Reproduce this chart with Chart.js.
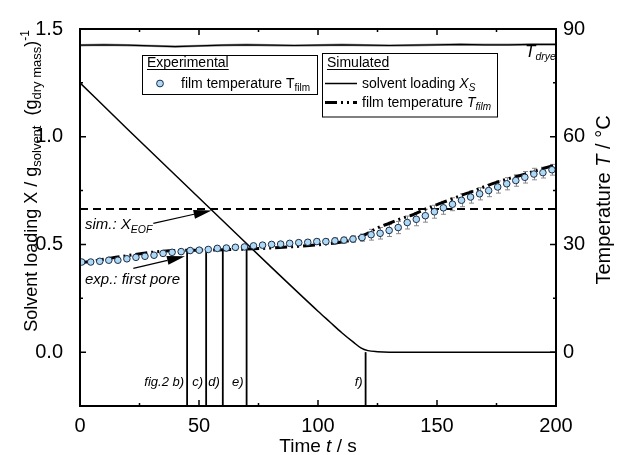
<!DOCTYPE html>
<html>
<head>
<meta charset="utf-8">
<script src="https://cdn.jsdelivr.net/npm/chart.js@4.4.0/dist/chart.umd.min.js"></script>
<style>
  body { margin: 0; background: #fff; }
  canvas { display: block; }
</style>
</head>
<body>
<canvas id="chart" width="619" height="455"></canvas>
<script>
// --- ticks ---
const xTicks = [0, 50, 100, 150, 200];
const xMinor = [25, 75, 125, 175];
const yTicks = [0, 0.5, 1.0, 1.5];
const yMinor = [-0.25, 0.25, 0.75, 1.25];
const tTicks = [0, 30, 60, 90];
const tMinor = [15, 45, 75];

// --- simulado: carga de solvente X_S ---
const timeXS = [0, 20, 40, 60, 80, 100, 105, 110, 115, 118, 121, 125, 130, 200];
const loadXS = [1.25, 1.035, 0.822, 0.61, 0.398, 0.19, 0.14, 0.09, 0.045, 0.02, 0.007, 0.002, 0, 0];
const xEOF = 0.665;

// --- simulado: temperatura de film ---
const timeSimT = [0, 5, 10, 15, 20, 30, 40, 50, 60, 70, 80, 90, 100, 110, 115, 120, 125, 130, 135, 140, 145, 150, 155, 160, 165, 170, 175, 180, 185, 190, 195, 200];
const simFilmT = [24.9, 25.3, 25.9, 26.4, 26.9, 27.8, 28.3, 28.4, 28.5, 28.7, 29.0, 29.4, 29.9, 30.7, 31.4, 32.8, 34.6, 35.9, 37.2, 38.3, 39.8, 41.1, 42.3, 43.6, 44.8, 46.1, 47.3, 48.3, 49.2, 50.2, 51.2, 52.2];

// --- secador ---
const timeDryer = [0, 10, 20, 30, 40, 50, 60, 70, 80, 90, 100, 110, 120, 130, 140, 150, 160, 170, 180, 190, 200];
const dryerT = [85.5, 85.6, 85.5, 85.3, 85.1, 85.3, 85.5, 85.6, 85.5, 85.4, 85.5, 85.6, 85.5, 85.4, 85.5, 85.6, 85.7, 85.6, 85.6, 85.7, 85.7];

// --- experimental: temperatura de film ---
const expTimes = [0.7, 4.5, 8.3, 12.1, 15.9, 19.7, 23.5, 27.3, 31.1, 34.9, 38.7, 42.5, 46.3, 50.1, 53.9, 57.7, 61.5, 65.3, 69.1, 72.9, 76.7, 80.5, 84.3, 88.1, 91.9, 95.7, 99.5, 103.3, 107.1, 110.9, 114.7, 118.5, 122.3, 126.1, 129.9, 133.7, 137.5, 141.3, 145.1, 148.9, 152.7, 156.5, 160.3, 164.1, 167.9, 171.7, 175.5, 179.3, 183.1, 186.9, 190.7, 194.5, 198.3];
const expFilmT = [25.1, 25.1, 25.3, 25.6, 25.6, 26.0, 26.4, 26.7, 27.0, 27.5, 27.8, 28.0, 28.3, 28.4, 28.6, 28.9, 29.0, 29.2, 29.3, 29.6, 29.8, 30.0, 30.1, 30.3, 30.5, 30.6, 30.8, 30.8, 31.0, 31.2, 31.5, 31.9, 32.7, 33.1, 33.9, 34.7, 36.1, 37.0, 38.0, 39.1, 40.2, 41.2, 42.3, 43.2, 44.1, 45.0, 46.0, 46.9, 47.8, 48.7, 49.6, 50.0, 50.8];
const expErr = [0.3, 0.3, 0.3, 0.3, 0.3, 0.3, 0.3, 0.3, 0.3, 0.3, 0.3, 0.3, 0.3, 0.3, 0.3, 0.3, 0.3, 0.3, 0.3, 0.3, 0.3, 0.5, 0.5, 0.5, 0.6, 0.6, 0.7, 0.7, 0.8, 0.8, 0.9, 1.0, 1.5, 1.6, 1.7, 1.7, 1.8, 1.8, 1.8, 1.8, 1.8, 1.8, 1.8, 1.7, 1.7, 1.7, 1.7, 1.7, 1.6, 1.6, 1.6, 1.5, 1.5];

// --- lineas verticales fig.2 ---
const fig2Times = [45, 53, 60, 70, 120];
const fig2Tops = [0.468, 0.472, 0.477, 0.486, 0.0];
const fig2Labels = ['fig.2 b)', 'c)', 'd)', 'e)', 'f)'];

const FONT = "'Liberation Sans', Arial, Helvetica, sans-serif";
const SIM_DASH = [12, 4, 2, 4, 2, 4];

const pts = (xs, ys) => xs.map((x, i) => ({ x, y: ys[i] }));

function setFont(ctx, size, italic) {
    ctx.font = (italic ? 'italic ' : '') + size + 'px ' + FONT;
}

// parts: [texto, tamaño, italica, desplazamiento]
function richText(ctx, x, y, parts, align) {
    let w = 0;
    parts.forEach(p => { setFont(ctx, p[1], p[2]); w += ctx.measureText(p[0]).width; });
    let cx = align === 'center' ? x - w / 2 : align === 'right' ? x - w : x;
    ctx.textAlign = 'left';
    ctx.textBaseline = 'alphabetic';
    parts.forEach(p => {
        setFont(ctx, p[1], p[2]);
        ctx.fillText(p[0], cx, y + (p[3] || 0));
        cx += ctx.measureText(p[0]).width;
    });
    return w;
}

function arrow(ctx, x0, y0, x1, y1, len, half) {
    const a = Math.atan2(y1 - y0, x1 - x0);
    const bx = x1 - len * Math.cos(a), by = y1 - len * Math.sin(a);
    ctx.beginPath();
    ctx.moveTo(x0, y0);
    ctx.lineTo(bx, by);
    ctx.stroke();
    ctx.beginPath();
    ctx.moveTo(x1, y1);
    ctx.lineTo(bx + half * Math.sin(a), by - half * Math.cos(a));
    ctx.lineTo(bx - half * Math.sin(a), by + half * Math.cos(a));
    ctx.closePath();
    ctx.fill();
}

const decor = {
    id: 'decor',
    beforeDatasetsDraw(chart) {
        const { ctx, scales } = chart;
        const xs = scales.x, ts = scales.y2;
        ctx.save();
        ctx.strokeStyle = '#8a8a8a';
        ctx.lineWidth = 1;
        expTimes.forEach((t, i) => {
            const px = Math.round(xs.getPixelForValue(t)) + 0.5;
            const a = ts.getPixelForValue(expFilmT[i] - expErr[i]);
            const b = ts.getPixelForValue(expFilmT[i] + expErr[i]);
            ctx.beginPath();
            ctx.moveTo(px, a); ctx.lineTo(px, b);
            ctx.moveTo(px - 2.5, a); ctx.lineTo(px + 2.5, a);
            ctx.moveTo(px - 2.5, b); ctx.lineTo(px + 2.5, b);
            ctx.stroke();
        });
        ctx.restore();
    },
    afterDraw(chart) {
        const { ctx, chartArea: ca, scales } = chart;
        const xs = scales.x, ys = scales.y, ts = scales.y2;
        ctx.save();
        ctx.fillStyle = '#000';
        ctx.strokeStyle = '#000';

        // marco
        ctx.lineWidth = 2;
        ctx.strokeRect(ca.left, ca.top, ca.right - ca.left, ca.bottom - ca.top);

        // ticks hacia adentro
        ctx.lineWidth = 1.5;
        ctx.beginPath();
        const tickX = (v, len) => {
            const p = xs.getPixelForValue(v);
            ctx.moveTo(p, ca.bottom); ctx.lineTo(p, ca.bottom - len);
            ctx.moveTo(p, ca.top); ctx.lineTo(p, ca.top + len);
        };
        xTicks.forEach(v => tickX(v, 6));
        xMinor.forEach(v => tickX(v, 3));
        const tickL = (v, len) => { const p = ys.getPixelForValue(v); ctx.moveTo(ca.left, p); ctx.lineTo(ca.left + len, p); };
        yTicks.forEach(v => tickL(v, 6));
        yMinor.forEach(v => tickL(v, 3));
        const tickR = (v, len) => { const p = ts.getPixelForValue(v); ctx.moveTo(ca.right, p); ctx.lineTo(ca.right - len, p); };
        tTicks.forEach(v => tickR(v, 6));
        tMinor.forEach(v => tickR(v, 3));
        ctx.stroke();

        // etiquetas fig.2
        fig2Times.forEach((t, i) => {
            richText(ctx, xs.getPixelForValue(t) - 3, ys.getPixelForValue(-0.156), [[fig2Labels[i], 13, true]], 'right');
        });

        // anotaciones
        richText(ctx, xs.getPixelForValue(2.1), ys.getPixelForValue(0.573),
            [['sim.: X', 15, true], ['EOF', 10.5, true, 4]], 'left');
        richText(ctx, xs.getPixelForValue(2.1), ys.getPixelForValue(0.317),
            [['exp.: first pore', 15, true]], 'left');
        ctx.lineWidth = 1.2;
        arrow(ctx, xs.getPixelForValue(30.8), ys.getPixelForValue(0.598),
            xs.getPixelForValue(55.3), ys.getPixelForValue(0.658), 18, 4.5);
        arrow(ctx, xs.getPixelForValue(22.4), ys.getPixelForValue(0.389),
            xs.getPixelForValue(44.1), ys.getPixelForValue(0.445), 18, 4.5);

        // T_dryer
        ctx.save();
        ctx.beginPath();
        ctx.rect(ca.left, ca.top, ca.right - ca.left - 1, ca.bottom - ca.top);
        ctx.clip();
        richText(ctx, 525, 57, [['T', 17, true], ['dryer', 10.5, true, 3]], 'left');
        ctx.restore();

        // leyenda
        ctx.lineWidth = 1;
        ctx.fillStyle = '#fff';
        ctx.fillRect(142.5, 55.5, 175, 39);
        ctx.strokeRect(142.5, 55.5, 175, 39);
        ctx.fillRect(322.5, 53.5, 175, 63.5);
        ctx.strokeRect(322.5, 53.5, 175, 63.5);
        ctx.fillStyle = '#000';

        let w = richText(ctx, 147, 67, [['Experimental', 14]], 'left');
        ctx.beginPath(); ctx.moveTo(147, 69.5); ctx.lineTo(147 + w, 69.5); ctx.stroke();
        ctx.beginPath();
        ctx.arc(160, 83.5, 3.4, 0, Math.PI * 2);
        ctx.fillStyle = '#aed9f2'; ctx.fill();
        ctx.strokeStyle = '#1c2b4a'; ctx.stroke();
        ctx.fillStyle = '#000'; ctx.strokeStyle = '#000';
        richText(ctx, 181, 88, [['film temperature T', 14], ['film', 10, false, 3]], 'left');

        w = richText(ctx, 327, 67, [['Simulated', 14]], 'left');
        ctx.beginPath(); ctx.moveTo(327, 69.5); ctx.lineTo(327 + w, 69.5); ctx.stroke();
        ctx.lineWidth = 1.5;
        ctx.beginPath(); ctx.moveTo(325, 83.5); ctx.lineTo(357, 83.5); ctx.stroke();
        richText(ctx, 362, 88, [['solvent loading ', 14], ['X', 14, true], ['S', 10, true, 3]], 'left');
        ctx.lineWidth = 3;
        ctx.setLineDash(SIM_DASH);
        ctx.beginPath(); ctx.moveTo(325, 102.5); ctx.lineTo(357, 102.5); ctx.stroke();
        ctx.setLineDash([]);
        richText(ctx, 362, 107, [['film temperature ', 14], ['T', 14, true], ['film', 10, true, 3]], 'left');

        // titulos de ejes
        richText(ctx, (ca.left + ca.right) / 2, 452, [['Time ', 19], ['t', 19, true], [' / s', 19]], 'center');

        ctx.save();
        ctx.translate(37, 181);
        ctx.rotate(-Math.PI / 2);
        richText(ctx, 0, 0, [
            ['Solvent loading X / g', 18], ['solvent', 13, false, 4],
            ['  (g', 18], ['dry mass', 13, false, 4], [')', 18], ['-1', 12, false, -8]
        ], 'center');
        ctx.restore();

        ctx.save();
        ctx.translate(610, 200);
        ctx.rotate(-Math.PI / 2);
        richText(ctx, 0, 0, [['Temperature ', 20], ['T', 20, true], [' / \u00b0C', 20]], 'center');
        ctx.restore();

        ctx.restore();
    }
};

const datasets = [
    { label: 'dryer-noise', data: pts(timeDryer, dryerT), yAxisID: 'y2',
      borderColor: '#9a9a9a', borderWidth: 2.5, order: 9 },
    { label: 'T_dryer', data: pts(timeDryer, dryerT), yAxisID: 'y2',
      borderColor: '#000', borderWidth: 1.2, order: 8 },
    { label: 'X_EOF', data: pts([0, 200], [xEOF, xEOF]), yAxisID: 'y',
      borderColor: '#000', borderWidth: 2, borderDash: [8, 5], order: 7 },
    { label: 'film temperature T_film (sim)', data: pts(timeSimT, simFilmT), yAxisID: 'y2',
      borderColor: '#000', borderWidth: 3, borderDash: SIM_DASH, cubicInterpolationMode: 'monotone', order: 6 },
    { label: 'solvent loading X_S', data: pts(timeXS, loadXS), yAxisID: 'y',
      borderColor: '#000', borderWidth: 1.5, cubicInterpolationMode: 'monotone', order: 5 },
    ...fig2Times.map((t, i) => ({
        label: fig2Labels[i], data: pts([t, t], [-0.25, fig2Tops[i]]), yAxisID: 'y',
        borderColor: '#000', borderWidth: 1.8, order: 4
    })),
    { label: 'film temperature T_film (exp)', data: pts(expTimes, expFilmT), yAxisID: 'y2',
      showLine: false, pointRadius: 3.3, pointBorderWidth: 1,
      pointBackgroundColor: '#aed9f2', pointBorderColor: '#1c2b4a', order: 1 }
];

const tickFont = { family: FONT, size: 20 };

new Chart(document.getElementById('chart'), {
    type: 'line',
    data: { datasets },
    options: {
        responsive: false,
        animation: false,
        devicePixelRatio: 1,
        events: [],
        layout: { padding: { top: 25, left: 0, right: 0, bottom: 0 } },
        plugins: { legend: { display: false }, tooltip: { enabled: false } },
        elements: { point: { radius: 0 }, line: { tension: 0 } },
        scales: {
            x: {
                type: 'linear', min: 0, max: 200,
                grid: { display: false, drawTicks: false }, border: { display: false },
                ticks: { font: tickFont, color: '#000', padding: 8, maxRotation: 0 },
                afterBuildTicks: s => { s.ticks = xTicks.map(v => ({ value: v })); },
                afterFit: s => { s.height = 49; }
            },
            y: {
                position: 'left', min: -0.25, max: 1.5,
                grid: { display: false, drawTicks: false }, border: { display: false },
                ticks: { font: tickFont, color: '#000', padding: 17, callback: v => v.toFixed(1) },
                afterBuildTicks: s => { s.ticks = yTicks.map(v => ({ value: v })); },
                afterFit: s => { s.width = 80; }
            },
            y2: {
                position: 'right', min: -15, max: 90,
                grid: { display: false, drawTicks: false }, border: { display: false },
                ticks: { font: tickFont, color: '#000', padding: 7 },
                afterBuildTicks: s => { s.ticks = tTicks.map(v => ({ value: v })); },
                afterFit: s => { s.width = 63; }
            }
        }
    },
    plugins: [decor]
});
</script>
</body>
</html>
